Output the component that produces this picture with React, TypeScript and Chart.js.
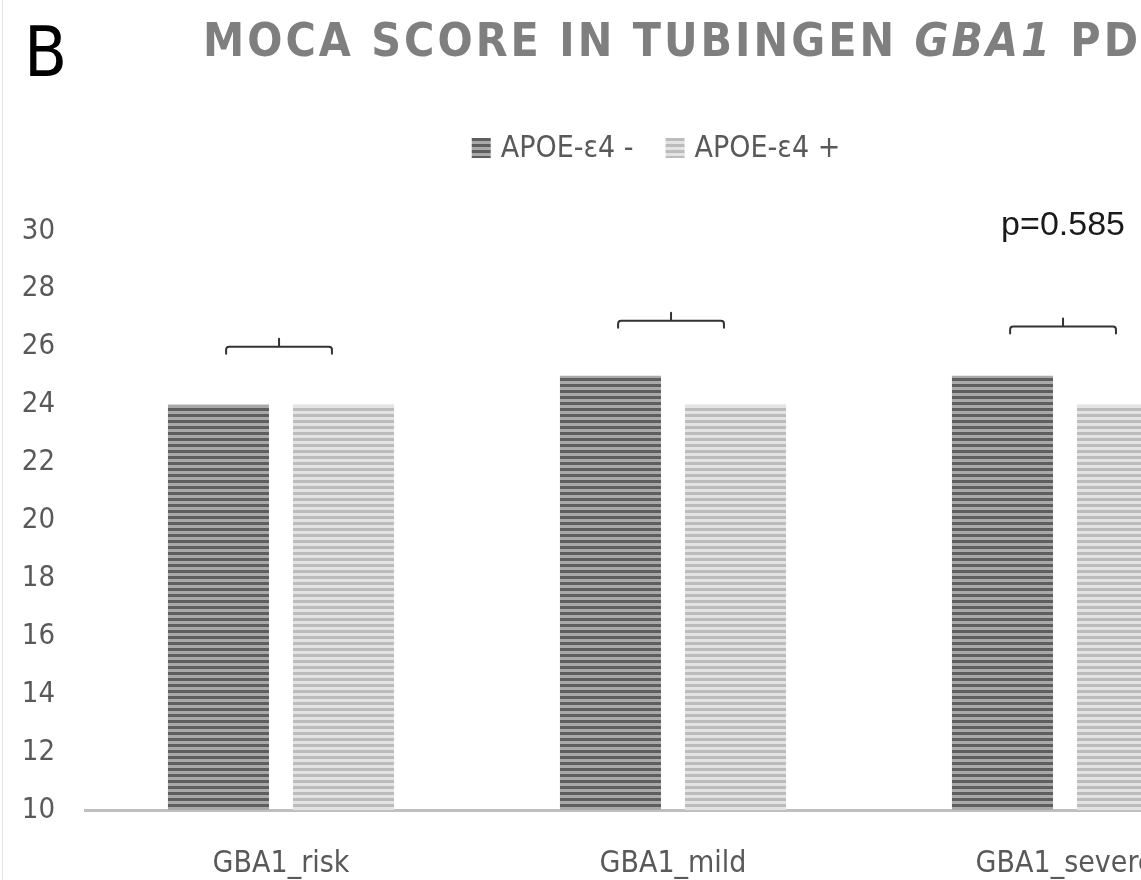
import { useEffect, useRef } from "react";
import { Chart, registerables } from "chart.js";

Chart.register(...registerables);

// ---- data ----
const categories = ["GBA1_risk", "GBA1_mild", "GBA1_severe"];
const seriesLabels = ["APOE-ε4 -", "APOE-ε4 +"];
const apoeNegative = [24, 25, 25];
const apoePositive = [24, 24, 24];
const bracketLevels = [26.0, 26.9, 26.7];
const pValueLabels = ["", "", "p=0.585"];
const pValueLevel = 30.2;
const yMin = 10;
const yMax = 30;
const yStep = 2;
const panelLetter = "B";
const titleSegments = [
  { text: "MOCA SCORE IN TUBINGEN ", italic: false },
  { text: "GBA1", italic: true },
  { text: " PD", italic: false },
];

const NARROW = "'Liberation Sans Narrow', 'DejaVu Sans Condensed', 'Liberation Sans', sans-serif";
const REGULAR = "'Liberation Sans', 'Open Sans', sans-serif";
const GREY_TEXT = "#595959";

function makeStripes(ctx: CanvasRenderingContext2D, c1: string, c2: string, period: number) {
  const cv = document.createElement("canvas");
  cv.width = 4;
  cv.height = period;
  const g = cv.getContext("2d")!;
  g.fillStyle = c1;
  g.fillRect(0, 0, 4, period / 2);
  g.fillStyle = c2;
  g.fillRect(0, period / 2, 4, period / 2);
  return ctx.createPattern(cv, "repeat")!;
}

const decorPlugin = {
  id: "decor",
  afterDraw(chart: any) {
    const ctx: CanvasRenderingContext2D = chart.ctx;
    const xs = chart.scales.x;
    const ys = chart.scales.y;
    ctx.save();

    // left frame line
    ctx.strokeStyle = "#e3e3e3";
    ctx.lineWidth = 1;
    ctx.beginPath();
    ctx.moveTo(2.5, 0);
    ctx.lineTo(2.5, chart.height);
    ctx.stroke();

    // panel letter
    ctx.fillStyle = "#000";
    ctx.font = `70px ${NARROW}`;
    ctx.textAlign = "left";
    ctx.textBaseline = "alphabetic";
    ctx.fillText(panelLetter, 24, 76);

    // title with letter spacing fitted
    const titleLeft = 203;
    const titleRight = 1138;
    const fontFor = (it: boolean) => `${it ? "italic " : ""}bold 46px ${NARROW}`;
    let natural = 0;
    let chars = 0;
    (ctx as any).letterSpacing = "0px";
    for (const s of titleSegments) {
      ctx.font = fontFor(s.italic);
      natural += ctx.measureText(s.text).width;
      chars += s.text.length;
    }
    const ls = Math.max(0, (titleRight - titleLeft - natural) / (chars - 1));
    ctx.fillStyle = "#7f7f7f";
    let tx = titleLeft;
    for (const s of titleSegments) {
      ctx.font = fontFor(s.italic);
      (ctx as any).letterSpacing = "0px";
      const w = ctx.measureText(s.text).width;
      (ctx as any).letterSpacing = `${ls}px`;
      ctx.fillText(s.text, tx, 56);
      tx += w + ls * s.text.length;
    }
    (ctx as any).letterSpacing = "0px";

    // legend
    ctx.font = `30px ${NARROW}`;
    const boxW = 19;
    const boxH = 20;
    const gapBoxText = 10;
    const gapItems = 32;
    const widths = chart.data.datasets.map((d: any) => boxW + gapBoxText + ctx.measureText(d.label).width);
    const total = widths.reduce((a: number, b: number) => a + b, 0) + gapItems * (widths.length - 1);
    let lx = chart.width / 2 - total / 2;
    const ly = 148;
    chart.data.datasets.forEach((d: any, i: number) => {
      ctx.fillStyle = d.backgroundColor;
      ctx.fillRect(lx, ly - boxH / 2, boxW, boxH);
      ctx.fillStyle = GREY_TEXT;
      ctx.textBaseline = "middle";
      ctx.textAlign = "left";
      ctx.fillText(d.label, lx + boxW + gapBoxText, ly + 1);
      lx += widths[i] + gapItems;
    });

    // brackets and p-values
    ctx.strokeStyle = "#333";
    ctx.lineWidth = 2;
    ctx.lineCap = "round";
    categories.forEach((_, i) => {
      const y = ys.getPixelForValue(bracketLevels[i]);
      const xl = xs.getPixelForValue(i - 0.14);
      const xr = xs.getPixelForValue(i + 0.13);
      const xc = (xl + xr) / 2;
      const r = 3;
      const drop = 7;
      ctx.beginPath();
      ctx.moveTo(xl, y + drop);
      ctx.lineTo(xl, y + r);
      ctx.quadraticCurveTo(xl, y, xl + r, y);
      ctx.lineTo(xr - r, y);
      ctx.quadraticCurveTo(xr, y, xr, y + r);
      ctx.lineTo(xr, y + drop);
      ctx.moveTo(xc, y);
      ctx.lineTo(xc, y - 8);
      ctx.stroke();
      if (pValueLabels[i]) {
        ctx.fillStyle = "#1a1a1a";
        ctx.font = `34px ${REGULAR}`;
        ctx.textAlign = "center";
        ctx.textBaseline = "middle";
        ctx.fillText(pValueLabels[i], xc, ys.getPixelForValue(pValueLevel));
      }
    });

    ctx.restore();
  },
};

export default function App() {
  const ref = useRef<HTMLCanvasElement | null>(null);

  useEffect(() => {
    const canvas = ref.current!;
    const ctx = canvas.getContext("2d")!;
    const darkPattern = makeStripes(ctx, "#5e5e5e", "#a9a9a9", 6);
    const lightPattern = makeStripes(ctx, "#bcbcbc", "#e3e3e3", 6);

    const chart = new Chart(ctx, {
      type: "bar",
      data: {
        labels: categories,
        datasets: [
          { label: seriesLabels[0], data: apoeNegative, backgroundColor: darkPattern as any, borderWidth: 0 },
          { label: seriesLabels[1], data: apoePositive, backgroundColor: lightPattern as any, borderWidth: 0 },
        ],
      },
      options: {
        responsive: false,
        animation: false,
        devicePixelRatio: 1,
        layout: { padding: { top: 231, left: 22, right: 51, bottom: 0 } },
        datasets: { bar: { categoryPercentage: 0.638, barPercentage: 0.808 } } as any,
        plugins: {
          legend: { display: false },
          tooltip: { enabled: false },
          title: { display: false },
        },
        scales: {
          x: {
            grid: { display: false, drawTicks: false },
            border: { display: true, color: "#bfbfbf", width: 3 },
            ticks: {
              color: GREY_TEXT,
              font: { family: NARROW, size: 30 },
              padding: 36,
              maxRotation: 0,
              autoSkip: false,
            },
            afterFit(scale: any) {
              scale.height = 70;
            },
          },
          y: {
            min: yMin,
            max: yMax,
            grid: { display: false, drawTicks: false },
            border: { display: false },
            ticks: {
              stepSize: yStep,
              color: GREY_TEXT,
              font: { family: NARROW, size: 29 },
              padding: 30,
            },
            afterFit(scale: any) {
              scale.width = 63;
            },
          },
        },
      },
      plugins: [decorPlugin],
    });
    return () => chart.destroy();
  }, []);

  return (
    <div
      style={{
        position: "fixed",
        left: 0,
        top: 0,
        width: 1141,
        height: 880,
        overflow: "hidden",
        background: "#fff",
      }}
    >
      <canvas ref={ref} width={1312} height={880} style={{ display: "block" }} />
    </div>
  );
}
